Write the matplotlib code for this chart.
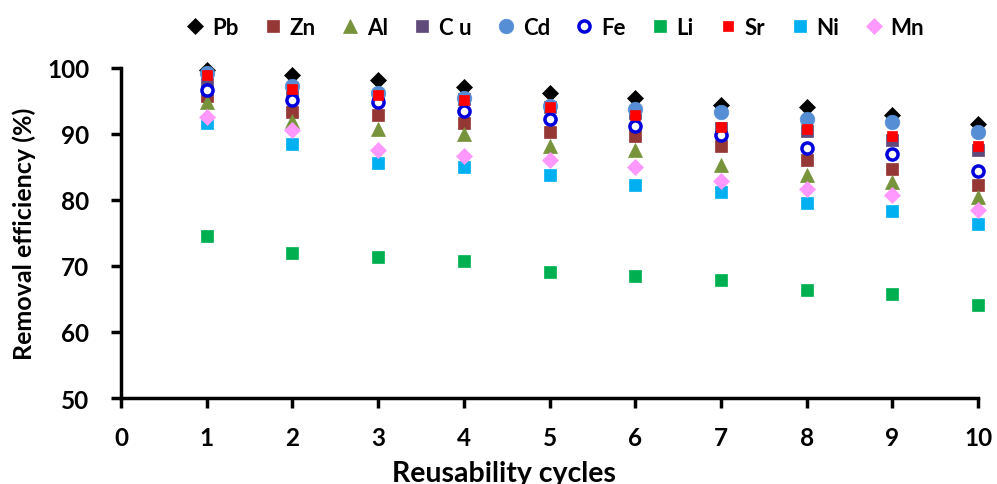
import numpy as np
import matplotlib
matplotlib.use("Agg")
import matplotlib.pyplot as plt

plt.rcParams['font.family'] = ['Lato', 'DejaVu Sans']
plt.rcParams['font.weight'] = 'bold'

# reusability cycles
cycles = [1, 2, 3, 4, 5, 6, 7, 8, 9, 10]

# removal efficiency (%) per metal
pb = [99.7, 98.9, 98.1, 97.1, 96.2, 95.5, 94.4, 94.1, 92.9, 91.5]
zn = [95.8, 93.3, 92.9, 91.6, 90.3, 89.7, 88.2, 86.1, 84.7, 82.3]
al = [94.9, 92.0, 90.7, 90.0, 88.2, 87.6, 85.3, 83.7, 82.7, 80.4]
cu = [97.6, 96.3, 95.3, 95.3, 94.0, 93.1, 90.9, 90.4, 89.1, 87.6]
cd = [99.2, 97.2, 96.2, 95.4, 94.3, 93.8, 93.3, 92.3, 91.8, 90.3]
fe = [96.7, 95.2, 94.9, 93.4, 92.2, 91.2, 89.8, 87.9, 86.9, 84.4]
li = [74.5, 71.9, 71.3, 70.7, 69.1, 68.5, 67.9, 66.3, 65.7, 64.1]
sr = [98.9, 96.8, 95.9, 95.2, 94.0, 92.9, 91.1, 90.7, 89.7, 88.2]
ni = [91.7, 88.5, 85.6, 85.0, 83.8, 82.3, 81.2, 79.5, 78.3, 76.3]
mn = [92.5, 90.6, 87.5, 86.7, 86.0, 85.0, 82.9, 81.7, 80.7, 78.5]

fig = plt.figure(figsize=(9.97, 4.85), dpi=100)
ax = fig.add_axes([0.1214, 0.1773, 0.8596, 0.6807])

# (label, data, marker, size, face, edge)
series = [
    ("Pb", pb, "D", 8.5, "black", "black"),
    ("Zn", zn, "s", 9, "#953735", "#953735"),
    ("Al", al, "^", 10, "#77933C", "#77933C"),
    ("C u", cu, "s", 9, "#604A7B", "#604A7B"),
    ("Cd", cd, "o", 10.5, "#558ED5", "#558ED5"),
    ("Fe", fe, "o", 8, "white", "#0000DD"),
    ("Li", li, "s", 9, "#00B050", "#00B050"),
    ("Sr", sr, "s", 7, "#FF0000", "#FF0000"),
    ("Ni", ni, "s", 9, "#00B0F0", "#00B0F0"),
    ("Mn", mn, "D", 8, "#FF99FF", "#FF99FF"),
]

for label, vals, mk, ms, fc, ec in series:
    mew = 2.5 if label == "Fe" else 0.5
    ax.plot(cycles, vals, linestyle="none", marker=mk, markersize=ms,
            markerfacecolor=fc, markeredgecolor=ec, markeredgewidth=mew,
            label=label, clip_on=False, zorder=3)

ax.set_xlim(0, 10)
ax.set_ylim(50, 100)
ax.set_xticks(range(0, 11))
ax.set_yticks(range(50, 101, 10))

for s in ["top", "right"]:
    ax.spines[s].set_visible(False)
for s in ["left", "bottom"]:
    ax.spines[s].set_linewidth(2.5)
    ax.spines[s].set_color("black")

ax.tick_params(axis="both", direction="out", width=2.5, length=7, labelsize=17.5)
ax.tick_params(axis="x", pad=13)
ax.tick_params(axis="y", pad=16)
for t in ax.get_xticklabels() + ax.get_yticklabels():
    t.set_fontweight("bold")

ax.set_xlabel("Reusability cycles", fontsize=20.5, fontweight="bold", labelpad=8, x=0.447)
ax.set_ylabel("Removal efficiency (%)", fontsize=18, fontweight="bold", labelpad=8)

leg = fig.legend(loc="center", bbox_to_anchor=(0.556, 0.942), ncol=10, frameon=False,
                 prop={"size": 16, "weight": "bold"}, handletextpad=0.25,
                 columnspacing=1.05, handlelength=1.0)

fig.savefig("out.png", dpi=100)
